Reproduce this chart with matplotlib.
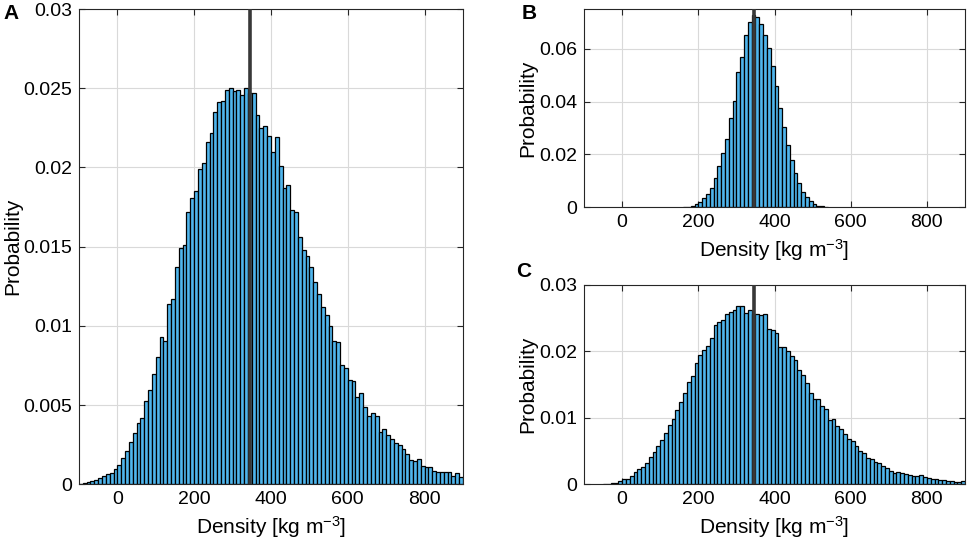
import matplotlib
matplotlib.use("Agg")
import matplotlib.pyplot as plt
import matplotlib.ticker as ticker
import numpy as np

BIN_WIDTH = 10
MEAN_DENSITY = 345

# panel A: probability per 10 kg m^-3 bin (units of 1e-3), first bin starts at -100
a_start = -100
a_prob = [0.04, 0.10, 0.17, 0.19, 0.27, 0.42, 0.55, 0.65, 0.74, 0.95,
          1.22, 1.64, 2.12, 2.69, 3.21, 3.84, 4.20, 5.27, 5.95, 6.95,
          8.05, 9.30, 9.05, 11.4, 11.7, 13.7, 14.9, 15.1, 17.2, 18.1,
          18.5, 19.9, 20.3, 21.6, 22.2, 23.5, 24.1, 24.2, 24.9, 25.0,
          24.8, 24.9, 24.6, 25.0, 24.7, 24.7, 23.3, 22.5, 22.6, 22.0,
          21.0, 21.9, 20.1, 18.7, 18.9, 17.3, 17.2, 15.6, 14.8, 14.4,
          13.7, 12.8, 12.0, 11.2, 10.7, 10.0, 9.07, 9.0, 7.5, 7.33,
          6.6, 6.5, 5.5, 5.75, 4.86, 4.32, 4.48, 4.32, 3.28, 3.47,
          3.12, 2.88, 2.63, 2.48, 2.21, 1.89, 1.54, 1.49, 1.6, 1.18,
          1.12, 1.12, 0.86, 0.76, 0.76, 0.8, 0.8, 0.55, 0.69, 0.44]

# panel B: first bin starts at 160
b_start = 160
b_prob = [0.1, 0.3, 0.5, 1.25, 2.1, 3.4, 4.9, 7.4, 10.9, 15.5,
          20.5, 25.7, 33.7, 40.3, 51.2, 57.0, 65.0, 70.0, 72.6, 71.9,
          69.5, 65.0, 60.4, 53.5, 45.7, 37.6, 30.3, 23.4, 17.8, 12.8,
          9.3, 5.6, 3.8, 2.4, 1.1, 0.6, 0.4, 0.1]

# panel C: first bin starts at -50
c_start = -50
c_prob = [0.1, 0.1, 0.15, 0.15, 0.45, 0.85, 0.8, 1.2, 1.9, 2.25,
          2.55, 3.25, 4.15, 4.8, 5.8, 6.7, 7.65, 8.9, 9.8, 11.2,
          12.4, 13.7, 15.4, 16.3, 18.3, 19.4, 20.2, 20.8, 22.0, 24.0,
          24.4, 24.8, 25.7, 25.9, 26.3, 26.8, 26.8, 25.8, 26.3, 25.7,
          25.7, 25.5, 25.7, 23.4, 23.3, 22.7, 20.7, 20.7, 20.0, 19.3,
          18.7, 17.2, 16.4, 15.2, 13.7, 12.9, 12.8, 11.8, 11.4, 9.66,
          9.8, 8.8, 8.3, 7.5, 6.8, 6.5, 5.75, 5.0, 4.75, 4.0,
          3.8, 3.4, 3.15, 2.8, 2.5, 2.05, 1.75, 1.85, 1.65, 1.55,
          1.4, 1.3, 1.2, 1.35, 1.15, 0.9, 0.8, 0.75, 0.65, 0.6,
          0.5, 0.5, 0.35, 0.4, 0.45]

x_ticks = [0, 200, 400, 600, 800]
a_yticks = [0, 0.005, 0.01, 0.015, 0.02, 0.025, 0.03]
b_yticks = [0, 0.02, 0.04, 0.06]
c_yticks = [0, 0.01, 0.02, 0.03]

plt.rcParams.update({'font.family': ['Liberation Sans', 'DejaVu Sans'],
                     'mathtext.default': 'regular'})

BAR_COLOR = "#4fb5ec"
FRAME = "#262626"

fig = plt.figure(figsize=(9.69, 5.49), dpi=100)
ax_a = fig.add_axes([0.0815, 0.1178, 0.3963, 0.8658])
ax_b = fig.add_axes([0.6027, 0.6224, 0.3932, 0.3612])
ax_c = fig.add_axes([0.6027, 0.1178, 0.3932, 0.3631])


def draw_panel(ax, start, prob, ylim, yticks):
    lefts = start + BIN_WIDTH * np.arange(len(prob))
    ax.bar(lefts, np.array(prob) * 1e-3, width=BIN_WIDTH, align='edge',
           color=BAR_COLOR, edgecolor='black', linewidth=0.9, zorder=2)
    ax.axvline(MEAN_DENSITY, color="#383838", linewidth=2.6, zorder=3)
    ax.set_xlim(-100, 900)
    ax.set_ylim(*ylim)
    ax.set_xticks(x_ticks)
    ax.set_yticks(yticks)
    ax.yaxis.set_major_formatter(ticker.FuncFormatter(lambda v, p: f"{v:g}"))
    ax.grid(True, color="#d9d9d9", linewidth=0.8, zorder=0)
    ax.set_axisbelow(True)
    ax.tick_params(direction='in', top=True, right=True, length=4, width=0.8,
                   color=FRAME, labelsize=14, pad=5)
    for s in ax.spines.values():
        s.set_color(FRAME)
        s.set_linewidth(0.8)
    ax.set_xlabel("Density [kg m$^{-3}$]", fontsize=15, labelpad=4)
    ax.set_ylabel("Probability", fontsize=15, labelpad=1)


draw_panel(ax_a, a_start, a_prob, (0, 0.03), a_yticks)
draw_panel(ax_b, b_start, b_prob, (0, 0.075), b_yticks)
draw_panel(ax_c, c_start, c_prob, (0, 0.03), c_yticks)

fig.text(0.004, 0.966, "A", fontsize=15, fontweight='bold')
fig.text(0.538, 0.966, "B", fontsize=15, fontweight='bold')
fig.text(0.533, 0.495, "C", fontsize=15, fontweight='bold')

fig.savefig("out.png", dpi=100)
